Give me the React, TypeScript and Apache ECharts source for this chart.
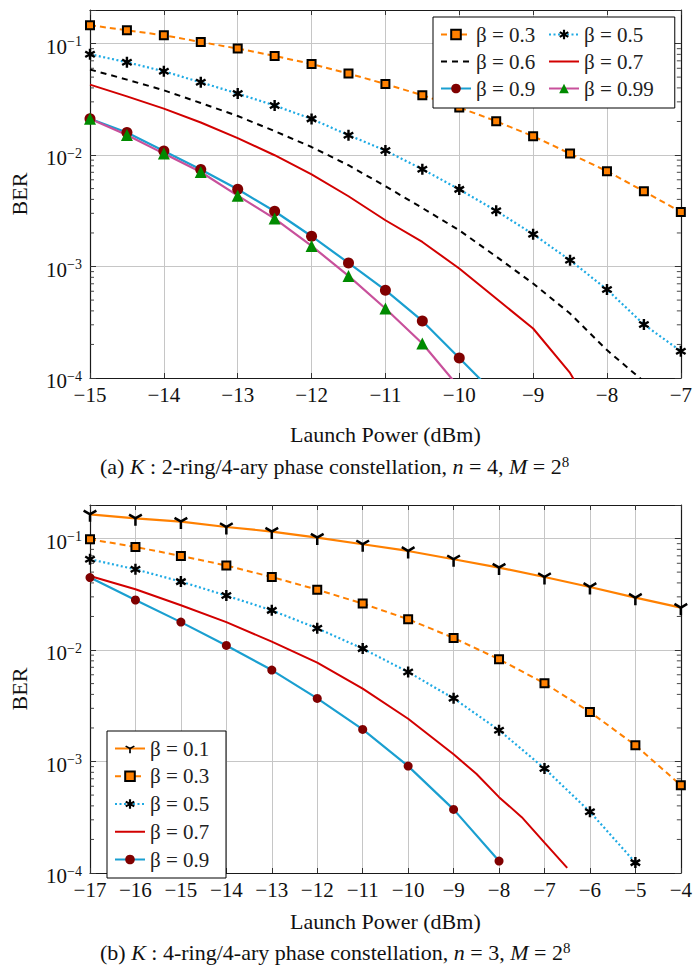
import React, { useEffect, useRef } from 'react';
import * as echarts from 'echarts';

const FONT = 'Liberation Serif';

// ---------- Chart (a) data ----------
const xA = [-15, -14.5, -14, -13.5, -13, -12.5, -12, -11.5, -11, -10.5, -10, -9.5, -9, -8.5, -8, -7.5, -7];
const a03 = [0.146, 0.1315, 0.1186, 0.1033, 0.0902, 0.0774, 0.0656, 0.0538, 0.0434, 0.0344, 0.0267, 0.0201, 0.01475, 0.0103, 0.00716, 0.00473, 0.00309];
const a05 = [0.0802, 0.068, 0.0564, 0.0449, 0.0356, 0.0278, 0.0211, 0.01507, 0.01097, 0.00746, 0.00492, 0.00316, 0.00195, 0.00114, 0.000622, 0.000302, 0.000174];
const a06 = [0.0585, 0.0475, 0.0381, 0.0293, 0.0224, 0.0164, 0.0118, 0.0081, 0.00525, 0.00335, 0.00211, 0.00123, 0.000704, 0.000379, 0.000178, 0.000093];
const a07 = [0.0428, 0.0336, 0.0261, 0.0196, 0.0142, 0.00996, 0.00672, 0.00427, 0.0026, 0.00166, 0.00096, 0.000516, 0.000278, 0.000111, 0.00003];
const a09 = [0.0212, 0.0159, 0.01089, 0.00741, 0.00493, 0.00313, 0.00187, 0.001077, 0.000613, 0.000325, 0.000151, 0.00007];
const a099 = [0.0212, 0.01513, 0.0103, 0.00705, 0.00432, 0.00269, 0.00153, 0.000824, 0.00042, 0.000204, 0.000082];

// ---------- Chart (b) data ----------
const xB = [-17, -16, -15, -14, -13, -12, -11, -10, -9, -8, -7, -6, -5, -4];
const b01 = [0.165, 0.152, 0.142, 0.127, 0.1156, 0.102, 0.0889, 0.0774, 0.0652, 0.0549, 0.0452, 0.0368, 0.0295, 0.024];
const b03 = [0.0986, 0.0841, 0.0699, 0.0573, 0.0452, 0.0348, 0.0261, 0.0189, 0.01283, 0.00826, 0.00503, 0.00278, 0.0014, 0.000613];
const b05 = [0.0652, 0.053, 0.0411, 0.0308, 0.0227, 0.01566, 0.0103, 0.00635, 0.00369, 0.00191, 0.000867, 0.000354, 0.000124];
const xB7 = [-17, -16, -15, -14, -13, -12, -11, -10, -9, -8.5, -8, -7.5, -7, -6.5];
const b07 = [0.0461, 0.0351, 0.0252, 0.0178, 0.0119, 0.0077, 0.0045, 0.00242, 0.00116, 0.000777, 0.000479, 0.000317, 0.000187, 0.000111];
const b09 = [0.0447, 0.0281, 0.0178, 0.011, 0.00661, 0.00368, 0.00194, 0.00091, 0.000372, 0.000128];

const legendA = ['β = 0.3', 'β = 0.5', 'β = 0.6', 'β = 0.7', 'β = 0.9', 'β = 0.99'];
const legendB = ['β = 0.1', 'β = 0.3', 'β = 0.5', 'β = 0.7', 'β = 0.9'];
const noMarkerA = ['β = 0.6', 'β = 0.7'];
const noMarkerB = ['β = 0.7'];

const Y_MIN = 1e-4;
const Y_MAX = 0.2;
const decades = [1e-4, 1e-3, 1e-2, 1e-1];
const minorMult = [2, 3, 4, 5, 6, 7, 8, 9];

const ORANGE = '#ff8000';
const CYAN_DOT = '#1eaae4';
const CYAN = '#1a9fd0';
const RED = '#d20000';
const MAGENTA = '#c8509b';
const DARKRED = '#800000';
const GREEN = '#008a00';

const asteriskPath =
  'path://M0.78,2 L1.22,2 L1.22,0 L0.78,0 Z M1.756,1.6905 L1.976,1.3095 L0.244,0.3095 L0.024,0.6905 Z M0.024,1.3095 L0.244,1.6905 L1.976,0.6905 L1.756,0.3095 Z';
const triDownPath =
  'path://M0.83,0.9 L1.17,0.9 L1.17,2 L0.83,2 Z M0.9984,1.1972 L0.8284,0.9028 L1.781,0.3528 L1.951,0.6472 Z M1.1716,0.9028 L1.0016,1.1972 L0.049,0.6472 L0.219,0.3528 Z M0.995,0 L1.005,0 L1.005,0.01 L0.995,0.01 Z';

const fmtX = (v: number) => (v < 0 ? '\u2212' + Math.abs(v) : String(v));
const fmtY = (v: number) => {
  const e = Math.round(Math.log10(v));
  const p = Math.pow(10, e);
  if (Math.abs(v - p) / p > 1e-6) return '';
  return '{b|10}{s|' + (e < 0 ? '\u2212' + -e : String(e)) + '}';
};

function pairs(xs: number[], ys: number[]) {
  return ys.map((y, i) => [xs[i], y]);
}

function minorTickSeries(xMin: number) {
  const vals: number[][] = [];
  decades.forEach((d) => minorMult.forEach((m) => {
    const v = d * m;
    if (v < Y_MAX) vals.push([xMin, v]);
  }));
  return {
    type: 'custom',
    name: 'minor',
    silent: true,
    xAxisIndex: 0,
    yAxisIndex: 0,
    encode: { x: 0, y: 1 },
    data: vals,
    z: 1,
    clip: false,
    renderItem: (params: any, api: any) => {
      const p = api.coord([api.value(0), api.value(1)]);
      const cs = params.coordSys;
      const st = { stroke: '#333', lineWidth: 0.9 };
      return {
        type: 'group',
        children: [
          { type: 'line', shape: { x1: cs.x, y1: p[1], x2: cs.x + 4, y2: p[1] }, style: st },
          { type: 'line', shape: { x1: cs.x + cs.width - 4, y1: p[1], x2: cs.x + cs.width, y2: p[1] }, style: st },
        ],
      };
    },
  };
}

function axes(xMin: number, xMax: number, nameGapX: number) {
  const axisLine = { show: true, onZero: false, lineStyle: { color: '#1a1a1a', width: 1.2 } };
  const tick = { show: true, inside: true, length: 5, lineStyle: { color: '#333', width: 1 } };
  return {
    xAxis: [
      {
        type: 'value', min: xMin, max: xMax, interval: 1, position: 'bottom',
        axisLine, axisTick: tick,
        axisLabel: { margin: 6, fontFamily: FONT, fontSize: 21, color: '#111', formatter: fmtX },
        splitLine: { show: true, lineStyle: { color: '#c6c6c6', width: 1 } },
        name: 'Launch Power (dBm)', nameLocation: 'middle', nameGap: nameGapX,
        nameTextStyle: { fontFamily: FONT, fontSize: 22, color: '#111' },
      },
      {
        type: 'value', min: xMin, max: xMax, interval: 1, position: 'top',
        axisLine, axisTick: tick, axisLabel: { show: false }, splitLine: { show: false },
      },
    ],
    yAxis: [
      {
        type: 'log', logBase: 10, min: Y_MIN, max: Y_MAX, position: 'left',
        axisLine, axisTick: { ...tick, length: 6 },
        axisLabel: {
          margin: 8, formatter: fmtY, fontFamily: FONT,
          rich: {
            b: { fontFamily: FONT, fontSize: 21, color: '#111', padding: [6, 0, 0, 0] },
            s: { fontFamily: FONT, fontSize: 14, color: '#111', padding: [0, 0, 4, 0] },
          },
        },
        splitLine: { show: true, lineStyle: { color: '#c6c6c6', width: 1 } },
        name: 'BER', nameLocation: 'middle', nameGap: 60, nameRotate: 90,
        nameTextStyle: { fontFamily: FONT, fontSize: 22, color: '#111' },
      },
      {
        type: 'log', logBase: 10, min: Y_MIN, max: Y_MAX, position: 'right',
        axisLine, axisTick: { ...tick, length: 6 }, axisLabel: { show: false }, splitLine: { show: false },
      },
    ],
  };
}

function legendBase(names: string[], noMarker: string[]) {
  return {
    itemWidth: 30,
    itemHeight: 12,
    backgroundColor: '#fff',
    borderColor: '#000',
    borderWidth: 1,
    borderRadius: 0,
    data: names.map((n) => (noMarker.indexOf(n) >= 0 ? { name: n, itemStyle: { opacity: 0 } } : { name: n })),
    formatter: (n: string) => '{t|' + n + '}',
    textStyle: {
      fontFamily: FONT,
      rich: { t: { width: 66, fontFamily: FONT, fontSize: 21, color: '#222', lineHeight: 18 } },
    },
  };
}

function caption(y: number, label: string, rings: string, n: string) {
  return {
    type: 'text',
    x: 100,
    y,
    style: {
      text: '(' + label + ') {i|K} : ' + rings + '-ring/4-ary phase constellation, {i|n} = ' + n + ', {i|M} = 2{s|8}',
      fontFamily: FONT,
      fontSize: 22,
      fill: '#111',
      verticalAlign: 'middle',
      rich: {
        i: { fontFamily: FONT, fontSize: 22, fontStyle: 'italic', fill: '#111' },
        s: { fontFamily: FONT, fontSize: 15, fill: '#111', padding: [0, 0, 10, 0] },
      },
    },
  };
}

const lineCommon = { type: 'line', showAllSymbol: true, xAxisIndex: 0, yAxisIndex: 0, z: 3 };

const optionA: any = {
  animation: false,
  textStyle: { fontFamily: FONT },
  grid: { left: 89, top: 10, width: 593, height: 368 },
  ...axes(-15, -7, 45),
  legend: {
    ...legendBase(legendA, noMarkerA),
    left: 433,
    top: 17,
    width: 215,
    orient: 'horizontal',
    itemGap: 6,
    padding: [7, 21, 9, 7],
  },
  series: [
    minorTickSeries(-15),
    {
      ...lineCommon, name: legendA[0], data: pairs(xA, a03),
      lineStyle: { color: ORANGE, width: 2, type: [6, 4] },
      symbol: 'rect', symbolSize: 8,
      itemStyle: { color: ORANGE, borderColor: '#000', borderWidth: 2 },
    },
    {
      ...lineCommon, name: legendA[1], data: pairs(xA, a05),
      lineStyle: { color: CYAN_DOT, width: 2.2, type: [2, 2.5] },
      symbol: asteriskPath, symbolSize: 11, symbolKeepAspect: true,
      itemStyle: { color: '#000' },
    },
    {
      ...lineCommon, name: legendA[2], data: pairs(xA, a06),
      lineStyle: { color: '#000', width: 2, type: [6, 5] },
      symbol: 'none', itemStyle: { color: '#000' },
    },
    {
      ...lineCommon, name: legendA[3], data: pairs(xA, a07),
      lineStyle: { color: RED, width: 2 },
      symbol: 'none', itemStyle: { color: RED },
    },
    {
      ...lineCommon, name: legendA[4], data: pairs(xA, a09),
      lineStyle: { color: CYAN, width: 2.2 },
      symbol: 'circle', symbolSize: 11,
      itemStyle: { color: DARKRED },
    },
    {
      ...lineCommon, name: legendA[5], data: pairs(xA, a099),
      lineStyle: { color: MAGENTA, width: 2.2 },
      symbol: 'triangle', symbolSize: 12,
      itemStyle: { color: GREEN },
    },
  ],
  graphic: [caption(466.7, 'a', '2', '4')],
};

const optionB: any = {
  animation: false,
  textStyle: { fontFamily: FONT },
  grid: { left: 89, top: 18, width: 593, height: 368 },
  ...axes(-17, -4, 37),
  legend: {
    ...legendBase(legendB, noMarkerB),
    left: 107,
    top: 244,
    orient: 'vertical',
    itemGap: 6.75,
    padding: [7, 10, 8, 7],
  },
  series: [
    minorTickSeries(-17),
    {
      ...lineCommon, name: legendB[0], data: pairs(xB, b01),
      lineStyle: { color: ORANGE, width: 2.2 },
      symbol: triDownPath, symbolSize: [14, 15],
      itemStyle: { color: '#000' },
    },
    {
      ...lineCommon, name: legendB[1], data: pairs(xB, b03),
      lineStyle: { color: ORANGE, width: 2, type: [6, 4] },
      symbol: 'rect', symbolSize: 8,
      itemStyle: { color: ORANGE, borderColor: '#000', borderWidth: 2 },
    },
    {
      ...lineCommon, name: legendB[2], data: pairs(xB, b05),
      lineStyle: { color: CYAN_DOT, width: 2.2, type: [2, 2.5] },
      symbol: asteriskPath, symbolSize: 11, symbolKeepAspect: true,
      itemStyle: { color: '#000' },
    },
    {
      ...lineCommon, name: legendB[3], data: pairs(xB7, b07),
      lineStyle: { color: RED, width: 2 },
      symbol: 'none', itemStyle: { color: RED },
    },
    {
      ...lineCommon, name: legendB[4], data: pairs(xB, b09),
      lineStyle: { color: CYAN, width: 2.2 },
      symbol: 'circle', symbolSize: 9,
      itemStyle: { color: DARKRED },
    },
  ],
  graphic: [caption(465.7, 'b', '4', '3')],
};

function Chart({ option, height }: { option: any; height: number }) {
  const ref = useRef<HTMLDivElement>(null);
  useEffect(() => {
    const chart = echarts.init(ref.current!, undefined, { renderer: 'svg' });
    chart.setOption(option);
    return () => chart.dispose();
  }, [option]);
  return <div ref={ref} style={{ width: 695, height }} />;
}

export default function App() {
  useEffect(() => {
    document.body.style.margin = '0';
  }, []);
  return (
    <div style={{ width: 695, height: 973, background: '#fff' }}>
      <Chart option={optionA} height={487} />
      <Chart option={optionB} height={486} />
    </div>
  );
}
